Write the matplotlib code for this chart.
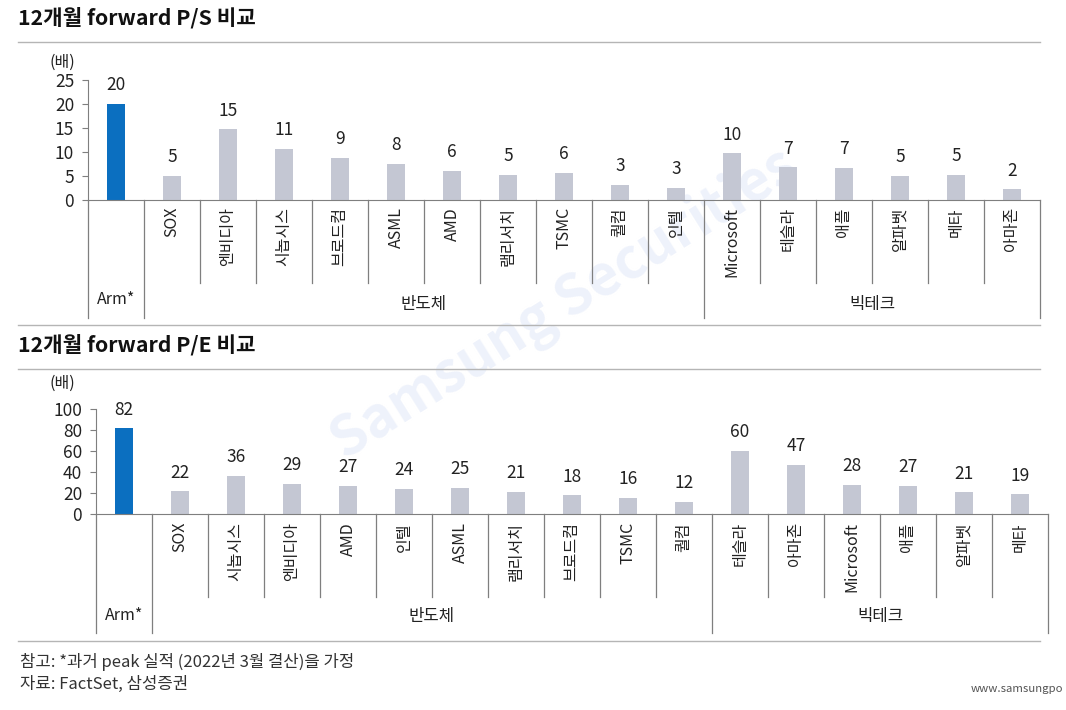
import matplotlib
matplotlib.use('Agg')
import matplotlib.pyplot as plt
from matplotlib import transforms
from matplotlib.lines import Line2D

plt.rcParams['font.family'] = ['Noto Sans CJK KR', 'DejaVu Sans']

W, H = 1066, 710

# 12개월 forward P/S
ps_names = ['Arm*', 'SOX', '엔비디아', '시놉시스', '브로드컴', 'ASML', 'AMD', '램리서치', 'TSMC',
            '퀄컴', '인텔', 'Microsoft', '테슬라', '애플', '알파벳', '메타', '아마존']
ps_values = [20.1, 5.1, 14.7, 10.6, 8.8, 7.6, 6.0, 5.3, 5.6, 3.2, 2.6, 9.7, 6.8, 6.7, 5.0, 5.2, 2.2]
ps_ticks = [0, 5, 10, 15, 20, 25]

# 12개월 forward P/E
pe_names = ['Arm*', 'SOX', '시놉시스', '엔비디아', 'AMD', '인텔', 'ASML', '램리서치', '브로드컴', 'TSMC',
            '퀄컴', '테슬라', '아마존', 'Microsoft', '애플', '알파벳', '메타']
pe_values = [81.5, 21.5, 36.2, 28.9, 26.6, 24.1, 25.0, 21.0, 17.8, 15.6, 11.6, 60.0, 46.6, 27.7, 26.6, 20.6, 18.7]
pe_ticks = [0, 20, 40, 60, 80, 100]

groups = ['반도체', '빅테크']
n_semi = 10

ARM_COL = '#0b6fc0'
BAR_COL = '#c4c7d3'
AX_COL = '#7f7f7f'
TXT = '#222222'


def fy(py):
    return 1 - py / H


fig = plt.figure(figsize=(W / 100, H / 100), dpi=100)

# watermark, kept behind everything
fig.text(565 / W, fy(305), 'Samsung Securities', rotation=32, fontsize=40, fontweight='bold',
         color='#eef2fb', ha='center', va='center', zorder=-5)


def panel(title, title_y, line_y, names, values, ticks, left, y0, ytop,
          lab_y, short_y, long_y, arm_y, grp_y, sep_y, unit_y):
    fig.text(18 / W, fy(title_y), title, fontsize=15.3, fontweight='bold', color='#111111', va='center')
    fig.add_artist(Line2D([18 / W, 1040 / W], [fy(line_y)] * 2, color='#b5b5b5', lw=1))
    fig.add_artist(Line2D([18 / W, 1040 / W], [fy(sep_y)] * 2, color='#b5b5b5', lw=1))
    fig.text(62 / W, fy(unit_y), '(배)', fontsize=11.5, color=TXT, ha='center', va='center')

    ax = fig.add_axes([left / W, fy(y0), 952 / W, (y0 - ytop) / H])
    ax.patch.set_alpha(0)
    n = len(values)
    colors = [ARM_COL] + [BAR_COL] * (n - 1)
    ax.bar(range(n), values, width=0.32, color=colors)
    for i, v in enumerate(values):
        ax.annotate(f'{v:.0f}', (i, v), xytext=(0, 7), textcoords='offset points',
                    ha='center', va='bottom', fontsize=12.5, color=TXT)
    ax.set_xlim(-0.5, n - 0.5)
    ax.set_ylim(0, ticks[-1])
    ax.set_yticks(ticks)
    ax.set_xticks([])
    for s in ['top', 'right']:
        ax.spines[s].set_visible(False)
    for s in ['left', 'bottom']:
        ax.spines[s].set_color(AX_COL)
    ax.tick_params(axis='y', length=4, color=AX_COL, labelsize=12.5, pad=6, labelcolor=TXT)

    trans = transforms.blended_transform_factory(ax.transData, fig.transFigure)
    for i in range(1, n):
        ax.text(i, fy(lab_y), names[i], transform=trans, rotation=90, ha='center', va='top',
                fontsize=11.5, color=TXT)
    ax.text(0, fy(arm_y), names[0], transform=trans, ha='center', va='center', fontsize=11.5, color=TXT)

    for k in range(0, n + 1):
        xb = k - 0.5
        if k in (0, 1, n_semi + 1, n):
            yb = long_y
        else:
            yb = short_y
        ax.add_line(Line2D([xb, xb], [fy(y0), fy(yb)], transform=trans, color=AX_COL, lw=0.9,
                           clip_on=False))

    ax.text((1 + n_semi) / 2, fy(grp_y), groups[0], transform=trans, ha='center', va='center',
            fontsize=12, color=TXT)
    ax.text((n_semi + 1 + n - 1) / 2, fy(grp_y), groups[1], transform=trans, ha='center', va='center',
            fontsize=12, color=TXT)
    return ax


panel('12개월 forward P/S 비교', 18, 42, ps_names, ps_values, ps_ticks, 88, 200, 80,
      207, 283, 318, 300, 305, 325, 62)
panel('12개월 forward P/E 비교', 345, 369, pe_names, pe_values, pe_ticks, 96, 514, 409,
      522, 597, 633, 615, 617, 641, 383)

fig.text(20 / W, fy(662), '참고: *과거 peak 실적 (2022년 3월 결산)을 가정', fontsize=12, color='#333333', va='center')
fig.text(20 / W, fy(684), '자료: FactSet, 삼성증권', fontsize=12, color='#333333', va='center')
fig.text(971 / W, fy(689), 'www.samsungpo', fontsize=8.2, color='#555555', va='center')

fig.savefig('out.png', dpi=100)
